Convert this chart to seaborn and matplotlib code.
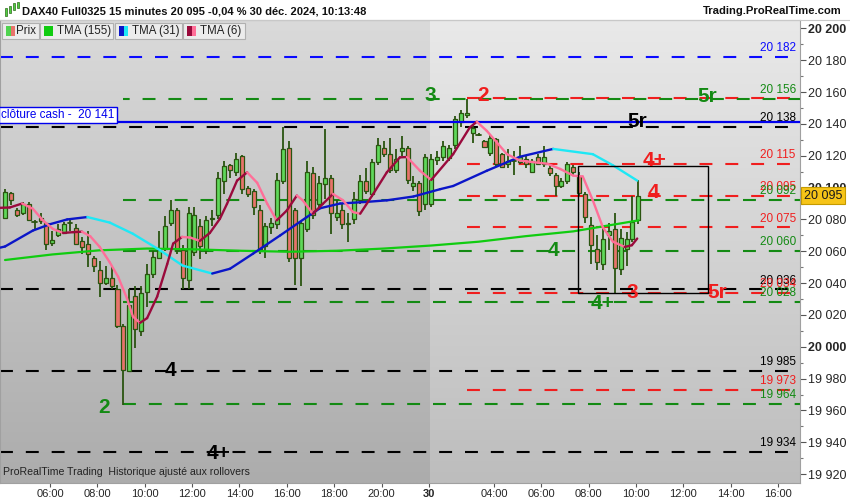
import numpy as np
import pandas as pd
import matplotlib
matplotlib.use("Agg")
import matplotlib.pyplot as plt
import matplotlib.colors as mcolors
import matplotlib.transforms as mtrans
from matplotlib.patches import Rectangle
import seaborn as sns

sns.set_theme(style="white")
plt.rcParams['font.family'] = ['Liberation Sans', 'DejaVu Sans']

# ---------------- data ----------------
# 15-minute candles, first bar 04:00 on day 1 (27 dec), day 30 starts after bar 71
opens = [
    20081, 20096.5, 20086, 20084, 20090, 20078, 20081, 20077.7, 20065, 20070,
    20071.5, 20077, 20074.8, 20066.5, 20064.4, 20056, 20048, 20040, 20043, 20036,
    20013, 19985, 20032, 20009.6, 20034.6, 20046, 20056, 20061.7, 20077.7, 20086,
    20060.6, 20042, 20059.6, 20076, 20060.6, 20080, 20082.5, 20104, 20114, 20109.6,
    20120, 20100, 20098, 20086, 20063, 20075, 20077, 20104, 20125, 20086,
    20056, 20074, 20109, 20090, 20102, 20106, 20081.5, 20086, 20078, 20080,
    20092, 20104, 20096, 20116, 20124.6, 20121, 20111, 20122.7, 20125, 20101,
    20103, 20090, 20090, 20117.5, 20119, 20118.6, 20127, 20141, 20145.6, 20134.6,
    20133, 20129.4, 20122, 20130.6, 20121, 20115, 20116, 20116, 20118, 20109.6,
    20119, 20115, 20112, 20108, 20101, 20104, 20112.7, 20107.5, 20096, 20076.7,
    20061.7, 20051.7, 20070, 20074, 20048.6, 20061.7, 20067.5, 20079.4]
closes = [
    20097, 20092, 20083, 20089.4, 20079.5, 20078.5, 20079, 20064.8, 20067, 20074,
    20077, 20077.5, 20064.8, 20062.7, 20058, 20051, 20040, 20043, 20038, 20013,
    19985.6, 20026, 20011, 20033.5, 20046, 20056.4, 20060.6, 20076, 20086, 20060.6,
    20043, 20084, 20083, 20063.6, 20079.4, 20081, 20106, 20113.7, 20111, 20118,
    20099, 20096, 20088, 20061.7, 20076, 20078, 20105, 20124, 20056, 20056,
    20078, 20109.6, 20083, 20103, 20106, 20084, 20084, 20077, 20077, 20093,
    20104, 20098, 20116, 20127, 20121, 20111, 20118, 20124.8, 20105, 20103,
    20085, 20119, 20118, 20119, 20126, 20125, 20143, 20147, 20147, 20137.7,
    20133.3, 20125.8, 20131, 20115, 20113, 20117, 20116.5, 20119, 20115, 20117,
    20115, 20119.4, 20109, 20101, 20104, 20115, 20109.6, 20096.6, 20081.5, 20064,
    20053, 20068, 20073, 20049.6, 20068.3, 20068, 20078.3, 20095]
highs = [
    20099, 20097, 20087, 20091, 20091, 20079.5, 20084, 20078, 20073, 20077,
    20078.3, 20080, 20077, 20069, 20072.5, 20057, 20054, 20051, 20051, 20039,
    20014, 20036, 20038, 20038, 20052, 20060, 20073, 20082, 20092, 20087,
    20064, 20088, 20088, 20080, 20082, 20086, 20110, 20117, 20115, 20122,
    20120.5, 20101, 20099, 20089, 20078, 20081, 20109, 20138, 20129, 20087,
    20079, 20117, 20113, 20107, 20137, 20108, 20092, 20090, 20084, 20097,
    20108, 20112, 20118, 20131, 20129, 20131, 20124, 20132.5, 20126, 20107,
    20104, 20121, 20121, 20123, 20129, 20127, 20145, 20149, 20155.5, 20140,
    20134, 20130, 20133, 20131, 20122, 20124, 20123, 20126, 20120, 20118,
    20121, 20126, 20114, 20109, 20106, 20116, 20114, 20110, 20097, 20081.5,
    20070, 20076, 20078, 20084, 20074, 20072, 20095, 20105]
lows = [
    20080, 20089, 20081.5, 20083, 20079, 20074, 20077, 20061, 20063.6, 20069,
    20071, 20073, 20064, 20058, 20050, 20047, 20031, 20039, 20036, 20012,
    19963.5, 19984, 19999, 20007, 20025, 20043, 20055, 20060, 20076, 20058,
    20036, 20036, 20057, 20055, 20058, 20076, 20080, 20096, 20106, 20107,
    20096, 20094, 20082.5, 20058, 20056, 20071, 20074, 20102, 20053, 20039,
    20038, 20072, 20080, 20086, 20093, 20071, 20079, 20074, 20066, 20077,
    20090, 20096, 20094, 20114, 20119, 20109, 20109, 20120, 20102, 20098,
    20082, 20086, 20088, 20114, 20117, 20117, 20124, 20138, 20144, 20128,
    20132.5, 20125, 20120, 20113, 20112, 20112, 20108, 20115, 20112, 20109,
    20114, 20113, 20107, 20095, 20100, 20102, 20108, 20095, 20077.7, 20052,
    20048, 20048, 20061, 20033.5, 20045, 20051, 20066, 20077]

# moving averages (bar index, value)
tma155_x = [0, 8, 16, 24, 32, 40, 48, 56, 64, 72, 80, 88, 96, 104, 107]
tma155_y = [20054.5, 20058, 20060.6, 20061.7, 20061.2, 20060.3, 20059.7, 20060.3,
            20061.7, 20063.6, 20066, 20069.5, 20072.5, 20077.5, 20079.4]
tma31_x = [-0.8, 0, 4.7, 7.6, 10.5, 13.9, 17.7, 21.6, 26.2, 30, 35, 38, 41.9, 46.5,
           51, 53.2, 56.6, 61, 64.5, 69, 73.5, 75.7, 81.4, 87, 92.6, 99.3, 102.7, 106.8]
tma31_y = [20062.3, 20063, 20073, 20077, 20080, 20081.5, 20078, 20071, 20060.6, 20051,
           20046, 20049, 20058.5, 20070, 20081.5, 20087, 20090, 20091, 20092, 20094.4,
           20099, 20101, 20110.6, 20119.4, 20124.3, 20121, 20114, 20104.4]
tma6_x = [-0.8, 0.8, 2.9, 4.7, 6.4, 8.1, 9.8, 11.5, 13, 14.4, 16, 17.7, 19.1, 20.6,
          21.6, 22.8, 24, 25.7, 27.4, 28.4, 29.9, 31.3, 32.9, 34.6, 36.3, 37.5, 39.2,
          40.9, 42.6, 44.3, 45.9, 47.6, 49.3, 50.3, 52, 53.7, 55.4, 57.1, 58.8, 60,
          62.2, 64.5, 66.7, 67.9, 70.1, 72, 75.7, 78.5, 79.7, 81.4, 83.1, 84.8, 87,
          89.2, 91.6, 93.8, 96, 97.6, 99.3, 101, 102.7, 104.7, 105.9, 106.8]
tma6_y = [20087.3, 20087.5, 20090, 20086.7, 20079.4, 20074, 20071.5, 20072, 20072.3,
          20069.4, 20062.7, 20053, 20044, 20030.4, 20019, 20015, 20018, 20031.5, 20052,
          20064.8, 20069, 20068.6, 20066.5, 20071.5, 20080.4, 20089.8, 20104.4, 20109.6,
          20103, 20089.8, 20079.4, 20085.6, 20095, 20092, 20083.6, 20089.8, 20096, 20092,
          20084.6, 20083.6, 20096, 20109.6, 20119, 20119.2, 20110.6, 20104.8, 20121,
          20137.7, 20141.4, 20135.6, 20128.3, 20121, 20117, 20116, 20115, 20111.7,
          20107.5, 20107, 20092, 20075, 20066, 20062.7, 20063.8, 20068]

# horizontal levels: (value, colour key, start bar)
level_values = [20182, 20156, 20155.5, 20138, 20115, 20095, 20092, 20075, 20060,
                20036, 20034, 20028, 19985, 19973, 19964, 19934]
level_kinds = ['blue', 'red', 'green', 'black', 'red', 'red', 'green', 'red', 'green',
               'black', 'red', 'green', 'black', 'red', 'green', 'black']
level_starts = [-1, 78, 20, -1, 78, 78, 20, 78, 20, -1, 78, 20, -1, 78, 20, -1]

label_texts = ["20 182", "20 156", "20 138", "20 115", "20 095", "20 092", "20 075",
               "20 060", "20 036", "20 034", "20 028", "19 985", "19 973", "19 964", "19 934"]
label_values = [20182, 20156, 20138, 20115, 20095, 20092, 20075, 20060, 20036, 20034,
                20028, 19985, 19973, 19964, 19934]
label_kinds = ['blue', 'green', 'black', 'red', 'red', 'green', 'red', 'green', 'black',
               'red', 'green', 'black', 'red', 'green', 'black']

marks_text = ["3", "2", "5r", "5r", "4+", "4", "4", "3", "5r", "4+", "4", "2", "4+"]
marks_x = [71.8, 80.7, 118.6, 106.8, 109.8, 109.5, 92.6, 105.9, 120.4, 101, 27.9, 16.7, 36]
marks_y = [20157.6, 20157.6, 20157, 20141.3, 20116.9, 20096.8, 20060.4, 20034, 20034,
           20027, 19985, 19962, 19933]
marks_kind = ['green', 'red', 'green', 'black', 'red', 'red', 'green', 'red', 'red',
              'green', 'black', 'green', 'black']

cash_close = 20141
last_price = 20095
box_x = [96.8, 118.75]
box_y = [20033.6, 20113.7]

day1_hours = [6, 8, 10, 12, 14, 16, 18, 20]
day2_hours = [4, 6, 8, 10, 12, 14, 16]

# ---------------- style ----------------
COL = {'green': '#138a13', 'red': '#f01e1e', 'black': '#000000', 'blue': '#0a0aff'}
UP_FILL = '#5fd85a'
DN_FILL = '#e8736b'
WICK = '#2a5410'

def fmt(v):
    v = int(v)
    return f"{v // 1000} {v % 1000:03d}"

W, H = 850, 500
fig = plt.figure(figsize=(8.5, 5), dpi=100)
fig.patch.set_facecolor('white')
ax = fig.add_axes([0, 17 / H, 800 / W, 463 / H])

YMIN, YMAX = 19914.4, 20205.3
XMIN, XMAX = -0.85, 134.3
DAY_SPLIT = 71.75


def gradient(x0, x1, ctop, cbot):
    t = np.linspace(0, 1, 256)[:, None]
    top = np.array(mcolors.to_rgb(ctop))
    bot = np.array(mcolors.to_rgb(cbot))
    img = (top * (1 - t) + bot * t)[:, None, :]
    ax.imshow(img, extent=[x0, x1, YMIN, YMAX], origin='upper', aspect='auto',
              zorder=0, interpolation='bilinear')


gradient(XMIN, DAY_SPLIT, '#dadada', '#acacac')
gradient(DAY_SPLIT, XMAX, '#e9e9e9', '#bdbdbd')

# levels
for v, k, s in zip(level_values, level_kinds, level_starts):
    x0 = XMIN if s < 0 else s
    off = 0 if k != 'green' or v != 20155.5 else 3
    ax.plot([x0, XMAX], [v, v], color=COL[k], lw=1.5,
            linestyle=(off, (6.2, 6.2)), zorder=1, solid_capstyle='butt')

# cash close line
ax.axhline(cash_close, color='#0000ee', lw=1.6, zorder=6)
ax.text(-0.65, cash_close + 0.9, "clôture cash -  " + fmt(cash_close), color='#0000ee',
        fontsize=8.5, ha='left', va='bottom', zorder=9,
        bbox=dict(boxstyle='square,pad=0.18', fc='white', ec='#0000ee', lw=1.0))

# candles
for i, (o, c, h, l) in enumerate(zip(opens, closes, highs, lows)):
    top = max(h, o, c)
    bot = min(l, o, c)
    ax.plot([i, i], [bot, top], color=WICK, lw=1.3, zorder=3, solid_capstyle='butt')
    hb = abs(c - o)
    fill = UP_FILL if c >= o else DN_FILL
    if hb < 0.8:
        ax.plot([i - 0.36, i + 0.36], [c, c], color=WICK, lw=1.3, zorder=4)
    else:
        ax.add_patch(Rectangle((i - 0.34, min(o, c)), 0.68, hb, fc=fill, ec=WICK,
                               lw=0.9, zorder=4))

# TMA 155 with seaborn
df155 = pd.DataFrame({'x': tma155_x, 'y': tma155_y})
sns.lineplot(data=df155, x='x', y='y', ax=ax, color='#10cc10', lw=1.6, zorder=5)


def two_colour(xs, ys, up, down, lw):
    for k in range(len(xs) - 1):
        c = up if ys[k + 1] >= ys[k] else down
        ax.plot(xs[k:k + 2], ys[k:k + 2], color=c, lw=lw, zorder=6,
                solid_capstyle='round', solid_joinstyle='round')


two_colour(tma31_x, tma31_y, '#0b16c8', '#1ee8f5', 1.7)
two_colour(tma6_x, tma6_y, '#9a0a3c', '#ff6f98', 1.7)

# box
ax.add_patch(Rectangle((box_x[0], box_y[0]), box_x[1] - box_x[0], box_y[1] - box_y[0],
                       fill=False, ec='black', lw=1.0, zorder=7))

# right-side level labels
for t, v, k in zip(label_texts, label_values, label_kinds):
    ax.text(133.6, v + 1.8, t, color=COL[k], fontsize=8.5, ha='right', va='bottom', zorder=8)

# big marks
for t, x, y, k in zip(marks_text, marks_x, marks_y, marks_kind):
    ax.text(x, y, t, color=COL[k], fontsize=15, fontweight='bold', ha='center',
            va='center', zorder=9)

# axes
ax.set_xlim(XMIN, XMAX)
ax.set_ylim(YMIN, YMAX)
ax.yaxis.tick_right()
yt = list(range(19920, 20201, 20))
ax.set_yticks(yt)
ax.set_yticklabels([fmt(v) for v in yt])
for lab, v in zip(ax.get_yticklabels(), yt):
    if v % 100 == 0:
        lab.set_fontweight('bold')
        lab.set_fontsize(10)
ax.set_yticks(list(range(19920, 20205, 10)), minor=True)
ax.tick_params(axis='y', which='major', direction='out', length=4, width=0.8,
               color='#555555', labelsize=9, pad=2, right=True, left=False)
ax.tick_params(axis='y', which='minor', direction='out', length=2, width=0.8,
               color='#777777', right=True, left=False)

xt, xl = [], []
for h in day1_hours:
    xt.append((h - 4) * 4 - 0.4)
    xl.append(f"{h:02d}:00")
xt.append(71.6)
xl.append("30")
for h in day2_hours:
    xt.append(72 + (h - 1.25) * 4 - 0.4)
    xl.append(f"{h:02d}:00")
ax.set_xticks(xt)
ax.set_xticklabels(xl)
for lab in ax.get_xticklabels():
    if lab.get_text() == "30":
        lab.set_fontweight('bold')
        lab.set_fontsize(9)
ax.tick_params(axis='x', which='major', direction='out', length=3, width=0.8,
               color='#555555', labelsize=8, pad=1.5, bottom=True)
for sp in ax.spines.values():
    sp.set_color('#a0a0a0')
    sp.set_linewidth(0.8)
ax.set_xlabel('')
ax.set_ylabel('')
ax.grid(False)

# last price box
trans = mtrans.blended_transform_factory(ax.transAxes, ax.transData)
ax.text(1.005, last_price, fmt(last_price), transform=trans, fontsize=9, color='#1a1a1a',
        ha='left', va='center', clip_on=False, zorder=10,
        bbox=dict(boxstyle='square,pad=0.2', fc='#f6c418', ec='#c49a00', lw=0.8))

# bottom-left note
ax.text(0.004, 0.012, "ProRealTime Trading  Historique ajusté aux rollovers",
        transform=ax.transAxes, fontsize=7.6, color='#222222', ha='left', va='bottom',
        family=['Liberation Sans Narrow', 'Liberation Sans'], zorder=9)


# ---------------- header & legend ----------------
def fx(x):
    return x / W


def fy(y):
    return 1 - y / H


fig.text(fx(22), fy(11), "DAX40 Full0325 15 minutes 20 095 -0,04 % 30 déc. 2024, 10:13:48",
         fontsize=8.0, fontweight='bold', ha='left', va='center', color='#111111')
fig.text(fx(842), fy(11), "Trading.ProRealTime.com", fontsize=8.1, fontweight='bold',
         ha='right', va='center', color='#111111')
# tiny candle icon
for cx, y0, y1 in [(6, 8, 16), (10, 6, 13), (14, 3, 10), (18, 2, 8)]:
    fig.patches.append(Rectangle((fx(cx - 1), fy(y1)), 2 / W, (y1 - y0) / H,
                                 transform=fig.transFigure, fc='#4fcf40', ec='#2c6a1a',
                                 lw=0.5))
fig.lines.append(plt.Line2D([0, 1], [fy(19.5), fy(19.5)], transform=fig.transFigure,
                            color='#c8c8c8', lw=0.8))

buttons = [(2, 39, "Prix", ('#4fd34f', '#e8736b'), 16),
           (40, 113, "TMA (155)", ('#10cc10', '#10cc10'), 57),
           (115, 182, "TMA (31)", ('#0b16c8', '#1ee8f5'), 132),
           (183, 245, "TMA (6)", ('#9a0a3c', '#ff6f98'), 200)]
for x0, x1, txt, (c1, c2), tx in buttons:
    fig.patches.append(Rectangle((fx(x0), fy(39)), (x1 - x0) / W, 16 / H,
                                 transform=fig.transFigure, fc='#ececec', ec='#b0b0b0',
                                 lw=0.8, zorder=20))
    fig.patches.append(Rectangle((fx(x0 + 4), fy(36)), 4.5 / W, 10 / H,
                                 transform=fig.transFigure, fc=c1, ec='none', zorder=21))
    fig.patches.append(Rectangle((fx(x0 + 8.5), fy(36)), 4.5 / W, 10 / H,
                                 transform=fig.transFigure, fc=c2, ec='none', zorder=21))
    fig.text(fx(tx), fy(31), txt, fontsize=8.3, ha='left', va='center', color='#222222',
             zorder=22)

fig.savefig("out.png", dpi=100, facecolor='white')
